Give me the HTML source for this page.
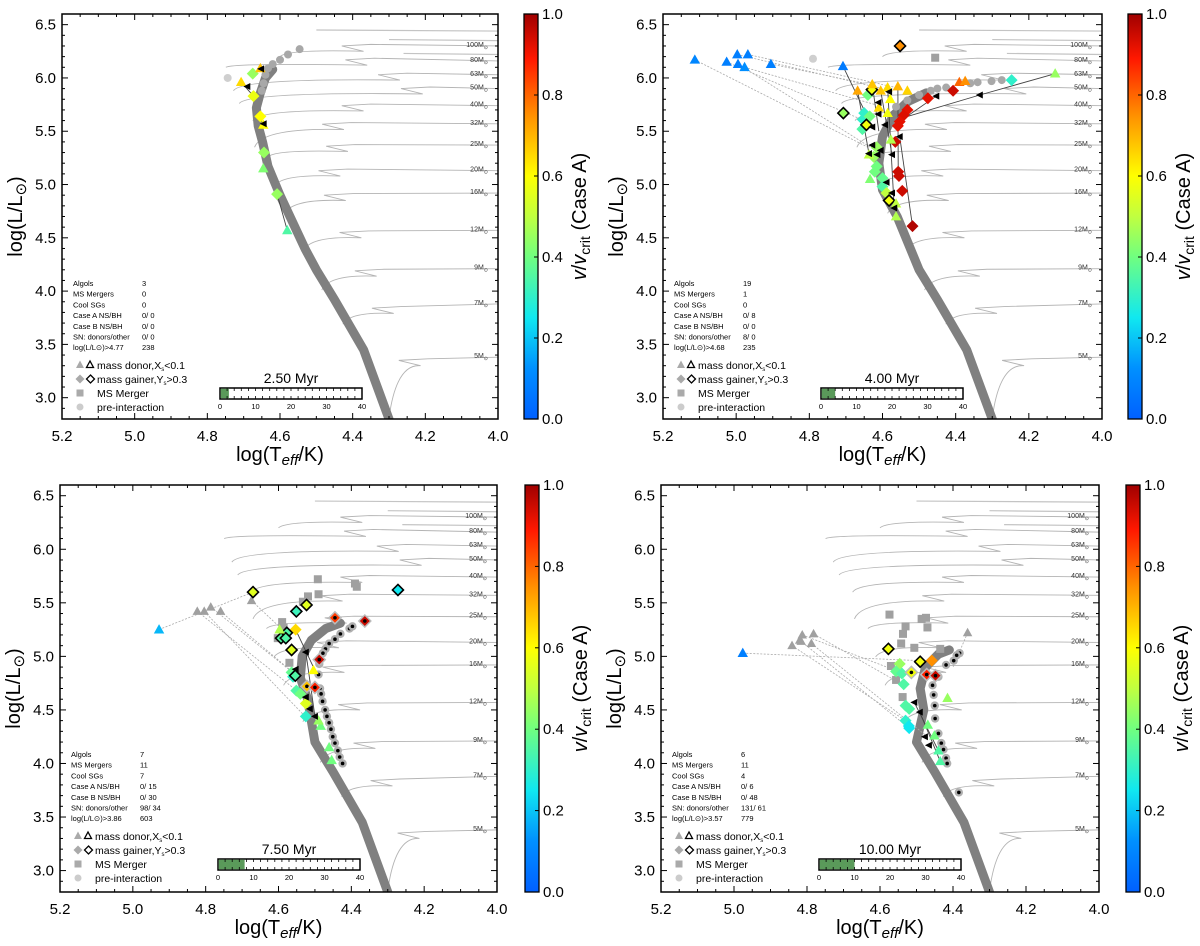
<!DOCTYPE html>
<html><head><meta charset="utf-8"><style>
html,body{margin:0;padding:0;background:#fff;}
svg text{font-family:"Liberation Sans",sans-serif;}
</style></head><body>
<svg id="fig" xmlns="http://www.w3.org/2000/svg" width="1200" height="941" viewBox="0 0 1200 941">
<defs>
<linearGradient id="jet" x1="0" y1="1" x2="0" y2="0">
<stop offset="0" stop-color="#0060ff"/><stop offset="0.125" stop-color="#0090ff"/><stop offset="0.25" stop-color="#10e8f0"/>
<stop offset="0.4" stop-color="#70ff80"/><stop offset="0.5" stop-color="#c0ff40"/><stop offset="0.6" stop-color="#ffff00"/><stop offset="0.75" stop-color="#ff9000"/>
<stop offset="0.89" stop-color="#ff1800"/><stop offset="1" stop-color="#a00000"/>
</linearGradient>
</defs>
</svg>
<script>
// ---- shared data ----
const trackMass=["5","7","9","12","16","20","25","32","40","50","63","80","100"];
const trackStartT=[4.30,4.427,4.485,4.533,4.586,4.612,4.633,4.67,4.675,4.712,4.728,4.749,4.60];
const trackStartL=[2.81,3.69,4.01,4.39,4.73,4.995,5.26,5.35,5.60,5.76,5.88,6.10,6.20];
const trackHookT=[4.243,4.317,4.364,4.406,4.449,4.464,4.443,4.454,4.40,4.237,4.30,4.39,4.40];
const trackHookL=[3.34,3.83,4.18,4.54,4.89,5.12,5.35,5.556,5.73,5.89,6.02,6.16,6.29];
const trackFlatL=[3.38,3.88,4.21,4.57,4.92,5.13,5.37,5.57,5.74,5.90,6.03,6.16,6.30];
const zamsBase=[[4.30,2.80],[4.37,3.45],[4.45,3.92],[4.50,4.20]];
const statLabels=["Algols","MS Mergers","Cool SGs","Case A NS/BH","Case B NS/BH","SN: donors/other","log(L/L\u2299)>"];

// ---- panel 1 (2.50 Myr) ----
const p1Zams=[[4.53,4.39],[4.60,4.90],[4.633,5.17],[4.648,5.40],[4.66,5.55],[4.665,5.72],[4.655,5.85],[4.64,6.0],[4.62,6.08]];
const p1Tri=[[4.707,5.96,0.65],[4.654,6.09,0.68],[4.646,5.56,0.6],[4.646,5.15,0.42],[4.58,4.57,0.35]];
const p1Dia=[[4.675,6.04,0.45],[4.673,5.83,0.57],[4.654,5.64,0.6],[4.644,5.30,0.45],[4.608,4.91,0.45]];
const p1DiaOut=[];
const p1Sq=[];
const p1Circ=[[4.546,6.27],[4.578,6.22],[4.60,6.17],[4.62,6.13],[4.633,6.09],[4.64,6.03],[4.645,5.95],[4.65,5.88]];
const p1Pre=[[4.744,6.0]];
const p1Dot=[];
const p1Arrow=[[4.652,6.085],[4.69,5.92],[4.645,5.57]];
const p1Solid=[[4.707,5.96,4.673,5.83],[4.608,4.91,4.58,4.57]];
const p1Dotted=[];
const p1Stats=["3","0","0","0/ 0","0/ 0","0/ 0","238"];
const p1Lcut="4.77";
const p1Time=2.5;

// ---- panel 2 (4.00 Myr) ----
const p2Zams=[[4.56,4.70],[4.60,4.95],[4.61,5.20],[4.60,5.45],[4.57,5.65],[4.53,5.78],[4.48,5.86]];
const p2Tri=[[5.113,6.17,0.1],[5.026,6.15,0.08],[4.997,6.22,0.08],[4.968,6.22,0.08],[4.995,6.13,0.08],[4.977,6.10,0.12],[4.905,6.13,0.08],[4.708,6.11,0.07],
[4.128,6.04,0.45],[4.668,5.88,0.72],[4.628,5.94,0.68],[4.605,5.88,0.68],[4.586,5.91,0.65],[4.558,5.92,0.7],[4.532,5.88,0.66],[4.39,5.96,0.8],[4.374,5.97,0.75],
[4.579,5.80,0.6],[4.586,5.67,0.58],[4.61,5.72,0.65],[4.634,5.05,0.42],[4.563,4.70,0.48],[4.577,5.42,0.48],[4.637,5.28,0.5],[4.563,4.82,0.5]];
const p2Dia=[[4.247,5.98,0.3],[4.476,5.81,0.92],[4.407,5.88,0.95],[4.532,5.70,0.92],[4.542,5.65,0.93],[4.553,5.59,0.92],[4.558,5.55,0.92],[4.565,5.40,0.95],[4.557,5.12,0.95],[4.555,5.08,0.95],[4.546,4.94,0.95],[4.518,4.61,0.98],
[4.65,5.67,0.3],[4.654,5.61,0.3],[4.635,5.64,0.4],[4.655,5.52,0.35],[4.64,5.84,0.4],[4.616,5.35,0.45],[4.624,5.26,0.45],[4.616,5.17,0.4],[4.621,5.12,0.4],[4.60,5.06,0.38],[4.60,4.98,0.35],[4.589,4.92,0.5]];
const p2DiaOut=[[4.552,6.30,0.75],[4.629,5.89,0.58],[4.644,5.56,0.58],[4.582,4.85,0.58],[4.707,5.67,0.45]];
const p2Sq=[[4.456,6.19]];
const p2Circ=[[4.274,5.98],[4.302,5.97],[4.34,5.96],[4.36,5.95],[4.426,5.91],[4.45,5.90],[4.468,5.88],[4.50,5.84],[4.532,5.79],[4.563,5.73]];
const p2Pre=[[4.79,6.18]];
const p2Dot=[[4.407,5.88],[4.557,5.12],[4.553,5.59]];
const p2Arrow=[[4.611,5.77],[4.611,5.66],[4.582,5.87],[4.605,5.32],[4.593,5.56],[4.628,5.54],[4.637,5.29],[4.614,5.28],[4.574,5.28],[4.553,5.45],[4.589,5.02],[4.574,4.92],[4.568,4.78],[4.453,5.83],[4.334,5.84],[4.628,5.37]];
const p2Solid=[[4.128,6.04,4.334,5.84],[4.334,5.84,4.55,5.62],[4.453,5.83,4.55,5.60],[4.668,5.88,4.637,5.29],[4.558,5.92,4.557,5.12],[4.553,5.45,4.518,4.61],[4.628,5.94,4.61,5.50],[4.605,5.88,4.574,5.28],[4.586,5.91,4.568,4.78],[4.708,6.11,4.628,5.54]];
const p2Dotted=[[5.113,6.17,4.64,5.35],[4.997,6.22,4.60,5.90],[4.968,6.22,4.55,5.90],[5.026,6.15,4.65,5.6],[4.977,6.10,4.62,5.75],[4.905,6.13,4.65,5.95],[4.995,6.13,4.61,5.30]];
const p2Stats=["19","1","0","0/ 8","0/ 0","8/ 0","235"];
const p2Lcut="4.68";
const p2Time=4.0;

// ---- panel 3 (7.50 Myr) ----
const p3Zams=[[4.52,4.60],[4.54,4.80],[4.535,5.0],[4.51,5.15],[4.47,5.26],[4.43,5.31]];
const p3Tri=[[4.928,5.25,0.18],[4.597,5.25,0.48],[4.504,4.87,0.6],[4.484,4.35,0.4],[4.461,4.15,0.4],[4.454,4.03,0.4],[4.49,4.40,0.45]];
const p3Dia=[[4.553,5.25,0.65],[4.564,4.85,0.38],[4.56,4.81,0.3],[4.551,4.68,0.35],[4.54,4.65,0.4],[4.525,4.56,0.55],[4.525,4.44,0.3]];
const p3DiaOut=[[4.67,5.60,0.55],[4.551,5.42,0.32],[4.523,5.48,0.55],[4.577,5.22,0.35],[4.593,5.17,0.35],[4.58,5.17,0.35],[4.564,5.06,0.55],[4.554,4.82,0.35],[4.272,5.62,0.25]];
const p3DiaDot=[[4.445,5.36,0.85],[4.363,5.33,0.95],[4.488,4.97,0.95],[4.522,4.72,0.68],[4.50,4.71,0.88]];
const p3GreyTri=[[4.823,5.42],[4.804,5.42],[4.786,5.46],[4.759,5.42],[4.674,5.52]];
const p3Sq=[[4.492,5.72],[4.39,5.68],[4.385,5.65],[4.49,5.58],[4.519,5.56],[4.533,5.51],[4.59,5.32],[4.586,5.27],[4.602,5.17],[4.57,4.94]];
const p3Dot=[[4.43,5.21],[4.445,5.16],[4.461,5.12],[4.471,5.07],[4.478,5.03],[4.488,4.93],[4.49,4.83],[4.486,4.70],[4.483,4.65],[4.479,4.58],[4.472,4.50],[4.467,4.44],[4.461,4.38],[4.456,4.32],[4.451,4.25],[4.445,4.19],[4.437,4.12],[4.432,4.06],[4.424,4.0],[4.405,5.26],[4.397,5.28]];
const p3Arrow=[[4.525,5.04],[4.553,4.88],[4.525,4.62],[4.514,4.51],[4.50,4.44]];
const p3Solid=[[4.553,5.25,4.50,4.87],[4.525,5.04,4.50,4.44]];
const p3Dotted=[[4.928,5.25,4.67,5.60],[4.823,5.42,4.55,4.68],[4.804,5.42,4.53,4.45],[4.786,5.46,4.55,4.82],[4.759,5.42,4.56,4.85],[4.674,5.52,4.58,5.22]];
const p3Stats=["7","11","7","0/ 15","0/ 30","98/ 34","603"];
const p3Lcut="3.86";
const p3Time=7.5;

// ---- panel 4 (10.00 Myr) ----
const p4Zams=[[4.48,4.50],[4.49,4.70],[4.475,4.90],[4.44,5.02],[4.41,5.06]];
const p4Tri=[[4.976,5.03,0.08],[4.415,4.61,0.45],[4.469,4.36,0.4],[4.451,4.26,0.4],[4.44,4.12,0.35],[4.435,4.02,0.35]];
const p4Dia=[[4.458,4.96,0.75],[4.546,4.93,0.45],[4.556,4.86,0.38],[4.54,4.84,0.35],[4.535,4.74,0.35],[4.53,4.54,0.35],[4.52,4.51,0.35],[4.53,4.40,0.3],[4.521,4.35,0.25],[4.52,4.33,0.25]];
const p4DiaOut=[[4.577,5.07,0.58],[4.49,4.95,0.58]];
const p4DiaDot=[[4.514,4.85,0.58],[4.472,4.83,0.88],[4.448,4.82,0.95]];
const p4GreyTri=[[4.841,5.10],[4.82,5.15],[4.813,5.20],[4.816,5.14],[4.788,5.12],[4.782,5.21],[4.36,5.22]];
const p4Sq=[[4.574,5.39],[4.486,5.35],[4.474,5.36],[4.53,5.28],[4.47,5.27],[4.537,5.21],[4.542,5.12],[4.506,5.08],[4.57,4.91],[4.556,4.78],[4.538,4.62],[4.435,5.07]];
const p4Dot=[[4.382,5.03],[4.39,5.01],[4.398,4.96],[4.419,4.92],[4.44,4.81],[4.456,4.73],[4.453,4.64],[4.45,4.54],[4.449,4.42],[4.44,4.28],[4.432,4.19],[4.426,4.13],[4.419,4.05],[4.416,4.0],[4.384,3.73]];
const p4Arrow=[[4.506,4.57],[4.491,4.48],[4.477,4.25],[4.466,4.17]];
const p4Solid=[[4.506,4.57,4.44,4.12],[4.491,4.48,4.435,4.02]];
const p4Dotted=[[4.976,5.03,4.49,4.96],[4.841,5.10,4.53,4.40],[4.82,5.15,4.52,4.33],[4.813,5.20,4.55,4.86],[4.788,5.12,4.47,4.25],[4.782,5.21,4.54,4.74],[4.36,5.22,4.40,4.90]];
const p4Stats=["6","11","4","0/ 6","0/ 48","131/ 61","779"];
const p4Lcut="3.57";
const p4Time=10.0;

const NS="http://www.w3.org/2000/svg";
const svg=document.getElementById('fig');
function mk(tag,attrs,parent){const e=document.createElementNS(NS,tag);for(const k in attrs)e.setAttribute(k,attrs[k]);(parent||svg).appendChild(e);return e;}
const cmapStops=[[0,[0,96,255]],[0.125,[0,144,255]],[0.25,[16,232,240]],[0.4,[112,255,128]],[0.5,[192,255,64]],[0.6,[255,255,0]],[0.75,[255,144,0]],[0.89,[255,24,0]],[1,[160,0,0]]];
function jet(v){v=Math.max(0,Math.min(1,v));for(let i=1;i<cmapStops.length;i++){const a=cmapStops[i-1],b=cmapStops[i];if(v<=b[0]){const f=(v-a[0])/(b[0]-a[0]);const c=a[1].map((x,k)=>Math.round(x+(b[1][k]-x)*f));return `rgb(${c[0]},${c[1]},${c[2]})`;}}return 'rgb(160,0,0)';}

function panel(P){
  const g=mk('g',{});
  
  
  const x0=P.x0,x1=P.x1,y0=P.y0,y1=P.y1;
  const X=t=>x0+(5.2-t)/1.2*(x1-x0);
  const Y=l=>y1-(l-2.8)/3.8*(y1-y0);
  const clip='clip'+P.id;
  const cp=mk('clipPath',{id:clip},g);mk('rect',{x:x0,y:y0,width:x1-x0,height:y1-y0},cp);
  const plot=mk('g',{'clip-path':`url(#${clip})`},g);
  for(let i=0;i<trackMass.length;i++){
    const sT=trackStartT[i],sL=trackStartL[i],hT=trackHookT[i],hL=trackHookL[i],fL=trackFlatL[i];
    const d=`M${X(sT)},${Y(sL)} Q${X(sT-0.02)},${Y(hL-0.02)} ${X(hT-0.03)},${Y(hL-0.04)} L${X(hT+0.03)},${Y(hL+0.01)} L${X(hT-0.05)},${Y(hL+0.025)} L${X(4.0)},${Y(fL)}`;
    const tr=mk('path',{d:d,fill:'none',stroke:'#b4b4b4','stroke-width':0.9},plot);
    
    
    const lb=mk('text',{x:x1-10,y:Y(fL)+1,'font-size':7,'text-anchor':'end',fill:'#333'},g);
    
    
    lb.textContent=trackMass[i]+'M';
    const sb=mk('tspan',{'font-size':5,dy:2},lb);sb.textContent='\u2299';
  }
  [[4.50,6.45],[4.30,6.36],[4.26,6.23]].forEach(a=>{mk('path',{d:`M${X(a[0])},${Y(a[1])} L${X(4.0)},${Y(a[1]-0.01)}`,stroke:'#c4c4c4','stroke-width':1.2,fill:'none'},plot);});
  const pts=zamsBase.concat(P.zams);
  const z=mk('polyline',{points:pts.map(p=>X(p[0])+','+Y(p[1])).join(' '),fill:'none',stroke:'#808080','stroke-width':9,'stroke-linejoin':'round','stroke-linecap':'round'},plot);
  
  
  P.dotted.forEach(s=>{const e=mk('line',{x1:X(s[0]),y1:Y(s[1]),x2:X(s[2]),y2:Y(s[3]),stroke:'#aaa','stroke-width':0.8,'stroke-dasharray':'2,1.5'},plot);
    });
  P.solid.forEach(s=>{const e=mk('line',{x1:X(s[0]),y1:Y(s[1]),x2:X(s[2]),y2:Y(s[3]),stroke:'#444','stroke-width':0.9},plot);
    });
  const tri=(t,l,s,f,st,sw)=>{const x=X(t),y=Y(l);return mk('polygon',{points:`${x},${y-s} ${x-s*0.95},${y+s*0.7} ${x+s*0.95},${y+s*0.7}`,fill:f,stroke:st||'none','stroke-width':sw||0},plot);};
  const dia=(t,l,s,f,st,sw)=>{const x=X(t),y=Y(l);return mk('polygon',{points:`${x},${y-s} ${x+s},${y} ${x},${y+s} ${x-s},${y}`,fill:f,stroke:st||'none','stroke-width':sw||0},plot);};
  P.pre.forEach(p=>{const e=mk('circle',{cx:X(p[0]),cy:Y(p[1]),r:4,fill:'#cfcfcf'},plot);});
  P.circ.forEach(p=>{const e=mk('circle',{cx:X(p[0]),cy:Y(p[1]),r:4,fill:'#a8a8a8'},plot);});
  P.dot.forEach(p=>{const e=mk('circle',{cx:X(p[0]),cy:Y(p[1]),r:4.2,fill:'#b0b0b0'},plot);
    const c=mk('circle',{cx:X(p[0]),cy:Y(p[1]),r:1.8,fill:'#000'},plot);});
  P.sq.forEach(p=>{const e=mk('rect',{x:X(p[0])-4,y:Y(p[1])-4,width:8,height:8,fill:'#a0a0a0'},plot);});
  P.greyTri.forEach(p=>{const e=tri(p[0],p[1],5,'#a0a0a0');});
  P.dia.forEach(p=>{const e=dia(p[0],p[1],6,jet(p[2]));});
  P.diaOut.forEach(p=>{const e=dia(p[0],p[1],5.5,jet(p[2]),'#000',1.6);});
  P.diaDot.forEach(p=>{const e=dia(p[0],p[1],6,jet(p[2]),'#bbb',1.5);
    const c=mk('circle',{cx:X(p[0]),cy:Y(p[1]),r:1.8,fill:'#000'},plot);});
  P.tri.forEach(p=>{const e=tri(p[0],p[1],5.5,jet(p[2]));});
  P.arrow.forEach(p=>{const x=X(p[0]),y=Y(p[1]);const e=mk('polygon',{points:`${x-4},${y} ${x+3},${y-3.5} ${x+3},${y+3.5}`,fill:'#000'},plot);});
  const fr=mk('rect',{x:x0,y:y0,width:x1-x0,height:y1-y0,fill:'none',stroke:'#000','stroke-width':1.5},g);
  
  for(let k=0;k<=24;k++){const t=5.2-k*0.05;const x=X(t);const maj=k%4===0;const L=maj?6:3;
    mk('line',{x1:x,y1:y1,x2:x,y2:y1-L,stroke:'#000','stroke-width':1},g);mk('line',{x1:x,y1:y0,x2:x,y2:y0+L,stroke:'#000','stroke-width':1},g);
    if(maj){const tx=mk('text',{x:x,y:y1+22,'font-size':15,'text-anchor':'middle'},g);tx.textContent=t.toFixed(1);}}
  for(let k=0;k<=37;k++){const l=2.8+k*0.1;if(l>6.61)break;const y=Y(l);const maj=Math.abs(l*2-Math.round(l*2))<1e-6;const L=maj?6:3;
    mk('line',{x1:x0,y1:y,x2:x0+L,y2:y,stroke:'#000','stroke-width':1},g);mk('line',{x1:x1,y1:y,x2:x1-L,y2:y,stroke:'#000','stroke-width':1},g);
    if(maj){const tx=mk('text',{x:x0-6,y:y+5,'font-size':15,'text-anchor':'end'},g);tx.textContent=l.toFixed(1);}}
  const xt=mk('text',{x:(x0+x1)/2,y:y1+42,'font-size':20,'text-anchor':'middle'},g);
  
  xt.innerHTML='log(T<tspan font-size="15" dy="4" font-style="italic">eff</tspan><tspan dy="-4">/K)</tspan>';
  const yt=mk('text',{x:0,y:0,'font-size':20,'text-anchor':'middle',transform:`translate(${x0-40},${(y0+y1)/2}) rotate(-90)`},g);
  
  yt.innerHTML='log(L/L<tspan font-size="15" dy="4">\u2299</tspan><tspan dy="-4">)</tspan>';
  for(let i=0;i<statLabels.length;i++){const yy=y0+272+i*10.7;
    const a=mk('text',{x:x0+11,y:yy,'font-size':7.5},g);
    a.textContent=statLabels[i]+(i===6?P.lcut:'');
    const b=mk('text',{x:x0+80,y:yy,'font-size':7.5},g);b.textContent=P.stats[i];}
  const lg=mk('g',{},g);
  const ly=[y0+351,y0+365,y0+379,y0+393];
  const lx=x0+18;
  mk('polygon',{points:`${lx},${ly[0]-4.5} ${lx-4},${ly[0]+3} ${lx+4},${ly[0]+3}`,fill:'#aaa'},lg);
  mk('polygon',{points:`${lx+10},${ly[0]-4} ${lx+6.5},${ly[0]+2.5} ${lx+13.5},${ly[0]+2.5}`,fill:'none',stroke:'#000','stroke-width':1.3},lg);
  mk('polygon',{points:`${lx},${ly[1]-4.5} ${lx+4.5},${ly[1]} ${lx},${ly[1]+4.5} ${lx-4.5},${ly[1]}`,fill:'#aaa'},lg);
  mk('polygon',{points:`${lx+10.5},${ly[1]-4} ${lx+14.5},${ly[1]} ${lx+10.5},${ly[1]+4} ${lx+6.5},${ly[1]}`,fill:'none',stroke:'#000','stroke-width':1.3},lg);
  mk('rect',{x:lx-3.5,y:ly[2]-3.5,width:7,height:7,fill:'#aaa'},lg);
  mk('circle',{cx:lx,cy:ly[3],r:3.5,fill:'#ccc'},lg);
  const lt=[['mass donor,X',x0+35,'<0.1'],['mass gainer,Y',x0+35,'>0.3'],['MS Merger',x0+35],['pre-interaction',x0+35]];
  lt.forEach((r,i)=>{const t=mk('text',{x:r[1],y:ly[i]+4,'font-size':10.5},lg);
    if(r[2]){t.innerHTML=r[0]+'<tspan font-size="6" dy="2">s</tspan><tspan dy="-2">'+r[2]+'</tspan>';}else t.textContent=r[0];});
  const bx=x0+158,bw=142,by=y0+374,bh=11;
  const tt=mk('text',{x:bx+bw/2,y:by-5,'font-size':14,'text-anchor':'middle'},g);tt.textContent=P.time.toFixed(2)+' Myr';
  const bg=mk('rect',{x:bx,y:by,width:bw,height:bh,fill:'#fff',stroke:'#000','stroke-width':1.5},g);
  const fl=mk('rect',{x:bx+0.75,y:by+0.75,width:Math.max(0,P.time/40*bw-0.75),height:bh-1.5,fill:'#5a9a5a'},g);
  for(let k=1;k<20;k++){const xx=bx+k*bw/20;mk('line',{x1:xx,y1:by+bh,x2:xx,y2:by+bh-3,stroke:'#000','stroke-width':0.8},g);mk('line',{x1:xx,y1:by,x2:xx,y2:by+3,stroke:'#000','stroke-width':0.8},g);}
  [0,10,20,30,40].forEach(v=>{const t=mk('text',{x:bx+v/40*bw,y:by+bh+10,'font-size':7.5,'text-anchor':'middle'},g);t.textContent=v;});
  const cb=mk('rect',{x:P.cbx,y:y0,width:14,height:y1-y0,fill:'url(#jet)',stroke:'#000','stroke-width':1.3},g);
  
  for(let k=0;k<=5;k++){const v=k*0.2;const y=y1-v*(y1-y0);
    mk('line',{x1:P.cbx+14,y1:y,x2:P.cbx+10,y2:y,stroke:'#000','stroke-width':1},g);
    const t=mk('text',{x:P.cbx+18,y:y+5,'font-size':15},g);t.textContent=v.toFixed(1);}
  const ct=mk('text',{x:0,y:0,'font-size':20,'text-anchor':'middle',transform:`translate(${P.cbx+62},${(y0+y1)/2}) rotate(-90)`},g);
  
  ct.innerHTML='<tspan font-style="italic">v</tspan>/<tspan font-style="italic">v</tspan><tspan font-size="14" dy="4">crit</tspan><tspan dy="-4"> (Case A)</tspan>';
}

panel({id:1,name:'panel-2.5-myr',x0:62,x1:498,y0:14,y1:419,cbx:524,zams:p1Zams,tri:p1Tri,dia:p1Dia,diaOut:p1DiaOut,diaDot:[],greyTri:[],sq:p1Sq,circ:p1Circ,pre:p1Pre,dot:p1Dot,arrow:p1Arrow,solid:p1Solid,dotted:p1Dotted,stats:p1Stats,lcut:p1Lcut,time:p1Time});
panel({id:2,name:'panel-4-myr',x0:663,x1:1102,y0:14,y1:419,cbx:1128,zams:p2Zams,tri:p2Tri,dia:p2Dia,diaOut:p2DiaOut,diaDot:[],greyTri:[],sq:p2Sq,circ:p2Circ,pre:p2Pre,dot:p2Dot,arrow:p2Arrow,solid:p2Solid,dotted:p2Dotted,stats:p2Stats,lcut:p2Lcut,time:p2Time});
panel({id:3,name:'panel-7.5-myr',x0:60,x1:497,y0:485,y1:892,cbx:525,zams:p3Zams,tri:p3Tri,dia:p3Dia,diaOut:p3DiaOut,diaDot:p3DiaDot,greyTri:p3GreyTri,sq:p3Sq,circ:[],pre:[],dot:p3Dot,arrow:p3Arrow,solid:p3Solid,dotted:p3Dotted,stats:p3Stats,lcut:p3Lcut,time:p3Time});
panel({id:4,name:'panel-10-myr',x0:661,x1:1099,y0:485,y1:892,cbx:1126,zams:p4Zams,tri:p4Tri,dia:p4Dia,diaOut:p4DiaOut,diaDot:p4DiaDot,greyTri:p4GreyTri,sq:p4Sq,circ:[],pre:[],dot:p4Dot,arrow:p4Arrow,solid:p4Solid,dotted:p4Dotted,stats:p4Stats,lcut:p4Lcut,time:p4Time});
</script>
</body></html>
